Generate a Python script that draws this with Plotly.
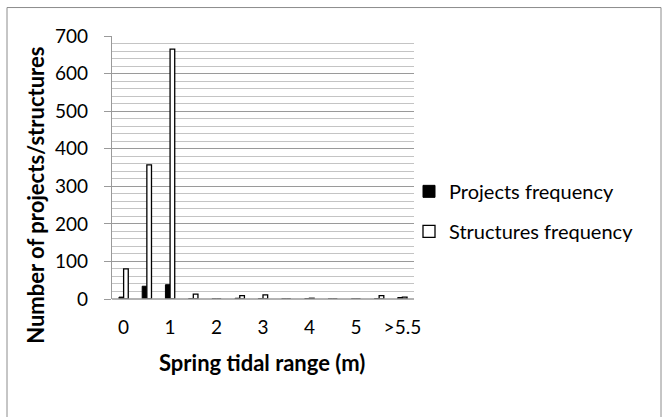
import plotly.graph_objects as go

categories = ["0", "0.5", "1", "1.5", "2", "2.5", "3", "3.5", "4", "4.5", "5", "5.5", ">5.5"]
projects = [5, 34, 38, 1, 0, 2, 1, 0, 1, 0, 0, 1, 4]
structures = [80, 357, 665, 13, 0, 9, 11, 0, 2, 0, 0, 9, 5]
tick_labels = ["0", "1", "2", "3", "4", "5", ">5.5"]
tick_vals = categories[0::2]

FONT = "Lato"

fig = go.Figure()
fig.add_trace(go.Bar(
    x=categories, y=projects, name="Projects frequency", legendgroup="p",
    marker=dict(color="black", line=dict(color="black", width=1)),
))
fig.add_trace(go.Bar(
    x=categories, y=structures, name="Structures frequency", legendgroup="s",
    marker=dict(color="white", line=dict(color="black", width=1.3)),
))

W, H = 662, 417
L, R, T, B = 112, 414, 36, 299.3
pw, ph = R - L, B - T

def px(x):
    return (x - L) / pw

def py(y):
    return (B - y) / ph

fig.update_layout(
    width=W, height=H,
    margin=dict(l=L, r=W - R, t=T, b=H - B, autoexpand=False),
    paper_bgcolor="white", plot_bgcolor="white",
    barmode="group", bargap=0.6, bargroupgap=0,
    font=dict(family=FONT, size=19, color="black"),
    showlegend=True,
    legend=dict(x=px(409), y=py(172), xanchor="left", yanchor="top",
                font=dict(family=FONT, size=20, color="black"),
                tracegroupgap=11, bgcolor="rgba(0,0,0,0)"),
    xaxis=dict(
        type="category", tickmode="array", tickvals=tick_vals, ticktext=tick_labels,
        showgrid=False, showline=False, ticks="", ticklabelstandoff=15,
        tickfont=dict(family=FONT, size=19),
        range=[-0.5, len(categories) - 0.5],
    ),
    yaxis=dict(
        range=[0, 700], dtick=100, tick0=0,
        showgrid=True, gridcolor="#9a9a9a", gridwidth=1.3,
        minor=dict(dtick=20, showgrid=True, gridcolor="#c4c4c4", gridwidth=1),
        showline=True, linecolor="#9a9a9a", linewidth=1.3,
        ticks="outside", ticklen=7, tickcolor="#9a9a9a", tickwidth=1.3,
        ticklabelstandoff=12,
        tickfont=dict(family=FONT, size=19),
        zeroline=False,
    ),
    annotations=[
        dict(text="<b>Number of projects/structures</b>", textangle=-90,
             x=px(36), y=py(196), xref="paper", yref="paper",
             xanchor="center", yanchor="middle", showarrow=False,
             font=dict(family=FONT, size=22, color="black")),
        dict(text="<b>Spring tidal range (m)</b>",
             x=px(262), y=py(363), xref="paper", yref="paper",
             xanchor="center", yanchor="middle", showarrow=False,
             font=dict(family=FONT, size=22, color="black")),
    ],
    shapes=[
        dict(type="rect", xref="paper", yref="paper",
             x0=px(7), x1=px(661), y0=py(425), y1=py(7.5),
             line=dict(color="#8c8c8c", width=1), fillcolor="rgba(0,0,0,0)", layer="below"),
        dict(type="line", xref="paper", yref="paper",
             x0=0, x1=1, y0=0, y1=0, line=dict(color="#9a9a9a", width=1.3)),
    ],
)

fig.write_html("out.html")
